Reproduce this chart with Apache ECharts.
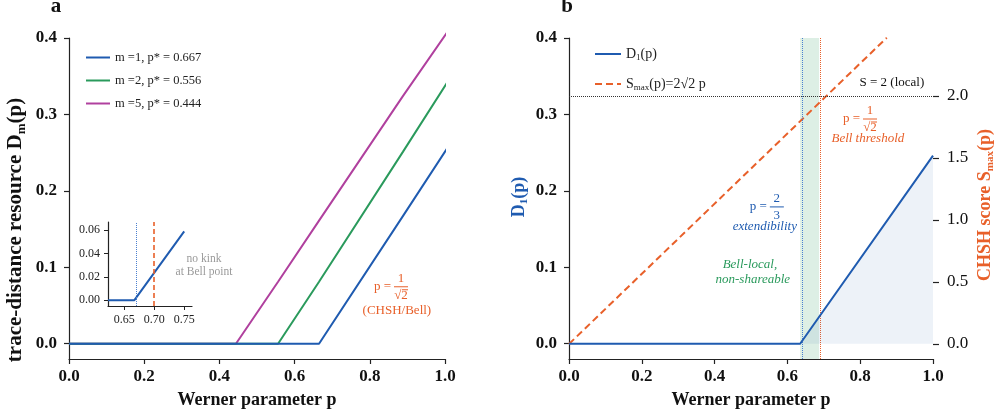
<!DOCTYPE html>
<html>
<head>
<meta charset="utf-8">
<script src="https://cdn.jsdelivr.net/npm/echarts@6/dist/echarts.min.js"></script>
<style>
  html, body { margin: 0; padding: 0; background: #fff; }
  #chart { width: 998px; height: 420px; }
</style>
</head>
<body>
<div id="chart"></div>
<script>
// ---- panel a : trace-distance resource D_m(p)
const pA = [0, 0.444, 0.556, 0.665, 0.888, 1.005];
const dM1 = [0, 0, 0, 0, 0.167, 0.255];
const dM2 = [0, 0, 0, 0.081, 0.251, 0.341];
const dM5 = [0, 0, 0.081, 0.161, 0.324, 0.407];
const namesA = ['m =1, p* = 0.667', 'm =2, p* = 0.556', 'm =5, p* = 0.444'];
// vertical guides in panel a: [p, from, to]
const guideM1 = [0.657, 0.165, 0.406];
const guideM2 = [0.556, 0, 0.406];
const guideM5 = [0.444, 0, 0.406];
const bellA = [0.732, -0.02, 0.406];

// ---- inset (zoom near m=1 threshold)
const pInset = [0.623, 0.667, 0.75];
const dInset = [0, 0, 0.059];
const insetGuide = 0.670;
const insetBell = 0.70;

// ---- panel b : D_1(p) and CHSH score
const pB = [0, 0.635, 1.0];
const d1B = [0, 0, 0.246];
const pS = [0, 0.873];
const sMax = [0, 2.47];
const extB = 0.635;
const bellB = 0.687;
const sLocal = 2.0;

// ---- ticks
const ticksD = [0, 0.1, 0.2, 0.3, 0.4];
const ticksS = [0, 0.5, 1.0, 1.5, 2.0];
const ticksInX = [0.65, 0.70, 0.75];
const ticksInY = [0, 0.02, 0.04, 0.06];

const SERIF = '"Liberation Serif", "DejaVu Serif", serif';
const BLUE = '#1f5bb0';
const GREEN = '#2a9a5c';
const MAGENTA = '#b0409e';
const ORANGE = '#e8602a';
const AXIS = '#222';

const zip = (xs, ys) => xs.map((x, i) => [x, ys[i]]);

function vline(g, color, type, width) {
  return [{ coord: [g[0], g[1]], lineStyle: { color: color, type: type, width: width } },
          { coord: [g[0], g[2]] }];
}

function xAxisMain(gridIndex) {
  return {
    type: 'value', gridIndex: gridIndex, min: 0, max: 1, interval: 0.2,
    name: 'Werner parameter p', nameLocation: 'middle', nameGap: 32,
    nameTextStyle: { fontFamily: SERIF, fontWeight: 'bold', fontSize: 18, color: '#111' },
    axisLine: { show: true, onZero: false, lineStyle: { color: AXIS, width: 1.2 } },
    axisTick: { show: true, length: 5, lineStyle: { color: AXIS, width: 1.2 } },
    axisLabel: { fontFamily: SERIF, fontWeight: 'bold', fontSize: 17, color: '#111', margin: 9,
                 formatter: v => v.toFixed(1) },
    splitLine: { show: false }
  };
}

function yAxisD(gridIndex) {
  return {
    type: 'value', gridIndex: gridIndex, min: -0.02, max: 0.4,
    axisLine: { show: true, onZero: false, lineStyle: { color: AXIS, width: 1.2 } },
    axisTick: { show: true, length: 5, customValues: ticksD, lineStyle: { color: AXIS, width: 1.2 } },
    axisLabel: { customValues: ticksD, fontFamily: SERIF, fontWeight: 'bold', fontSize: 17, color: '#111',
                 margin: 12, formatter: v => v.toFixed(1) },
    splitLine: { show: false }
  };
}

const chart = echarts.init(document.getElementById('chart'), null, { renderer: 'canvas' });

const option = {
  backgroundColor: '#fff',
  animation: false,
  grid: [
    { left: 69, top: 38, width: 376, height: 321 },
    { left: 569, top: 38, width: 364, height: 321 },
    { left: 108, top: 222, width: 84, height: 84 }
  ],
  xAxis: [
    xAxisMain(0),
    xAxisMain(1),
    {
      type: 'value', gridIndex: 2, min: 0.623, max: 0.763,
      axisLine: { show: true, onZero: false, lineStyle: { color: AXIS, width: 1.2 } },
      axisTick: { show: true, length: 4, customValues: ticksInX, lineStyle: { color: AXIS } },
      axisLabel: { customValues: ticksInX, fontFamily: SERIF, fontSize: 12, color: '#222', margin: 8,
                   formatter: v => v.toFixed(2) },
      splitLine: { show: false }
    }
  ],
  yAxis: [
    yAxisD(0),
    yAxisD(1),
    {
      type: 'value', gridIndex: 1, position: 'right', min: -0.121, max: 2.468,
      axisLine: { show: false, onZero: false },
      axisTick: { show: true, length: 6, customValues: ticksS, lineStyle: { color: AXIS, width: 1.2 } },
      axisLabel: { customValues: ticksS, fontFamily: SERIF, fontSize: 17, color: '#111', margin: 14,
                   formatter: v => v.toFixed(1) },
      splitLine: { show: false }
    },
    {
      type: 'value', gridIndex: 2, min: -0.005, max: 0.067,
      axisLine: { show: true, onZero: false, lineStyle: { color: AXIS, width: 1.2 } },
      axisTick: { show: true, length: 4, customValues: ticksInY, lineStyle: { color: AXIS } },
      axisLabel: { customValues: ticksInY, fontFamily: SERIF, fontSize: 12, color: '#222', margin: 8,
                   formatter: v => v.toFixed(2) },
      splitLine: { show: false }
    }
  ],
  legend: [
    {
      data: namesA, orient: 'vertical', left: 80, top: 46, itemWidth: 24, itemHeight: 12, itemGap: 10,
      itemStyle: { opacity: 0 },
      textStyle: { fontFamily: SERIF, fontSize: 12.5, color: '#222' }
    },
    {
      data: ['D1', 'Smax'], orient: 'vertical', left: 589, top: 42, itemWidth: 26, itemHeight: 12, itemGap: 15,
      itemStyle: { opacity: 0 },
      formatter: n => n === 'D1' ? '{n|D}{s|1}{n|(p)}' : '{n|S}{s|max}{n|(p)=2√2 p}',
      textStyle: {
        fontFamily: SERIF, fontSize: 14, color: '#222',
        rich: { n: { fontFamily: SERIF, fontSize: 14, color: '#222' },
                s: { fontFamily: SERIF, fontSize: 9, color: '#222', padding: [7, 0, 0, 0] } }
      }
    }
  ],
  series: [
    {
      name: namesA[2], type: 'line', xAxisIndex: 0, yAxisIndex: 0, symbol: 'none', clip: false,
      data: zip(pA, dM5), lineStyle: { color: MAGENTA, width: 2 }, itemStyle: { color: MAGENTA }, z: 3,
      markLine: { silent: true, symbol: 'none', label: { show: false }, data: [vline(guideM5, MAGENTA, 'dotted', 1)] }
    },
    {
      name: namesA[1], type: 'line', xAxisIndex: 0, yAxisIndex: 0, symbol: 'none', clip: false,
      data: zip(pA, dM2), lineStyle: { color: GREEN, width: 2 }, itemStyle: { color: GREEN }, z: 4,
      markLine: { silent: true, symbol: 'none', label: { show: false }, data: [vline(guideM2, GREEN, 'dotted', 1)] }
    },
    {
      name: namesA[0], type: 'line', xAxisIndex: 0, yAxisIndex: 0, symbol: 'none', clip: false,
      data: zip(pA, dM1), lineStyle: { color: BLUE, width: 2 }, itemStyle: { color: BLUE }, z: 5,
      markLine: { silent: true, symbol: 'none', label: { show: false },
                  data: [vline(guideM1, '#4a80d0', 'dotted', 1), vline(bellA, ORANGE, [7, 4], 2)] }
    },
    {
      name: 'inset', type: 'line', xAxisIndex: 2, yAxisIndex: 3, symbol: 'none',
      data: zip(pInset, dInset), lineStyle: { color: BLUE, width: 2 }, itemStyle: { color: BLUE },
      markLine: { silent: true, symbol: 'none', label: { show: false },
                  data: [ { xAxis: insetGuide, lineStyle: { color: '#4a80d0', type: 'dotted', width: 1 } },
                          { xAxis: insetBell, lineStyle: { color: ORANGE, type: [5, 3], width: 1.6 } } ] }
    },
    {
      name: 'D1', type: 'line', xAxisIndex: 1, yAxisIndex: 1, symbol: 'none',
      data: zip(pB, d1B), lineStyle: { color: BLUE, width: 2 }, itemStyle: { color: BLUE }, z: 5,
      areaStyle: { color: 'rgba(60,110,180,0.13)' },
      markArea: { silent: true, itemStyle: { color: 'rgba(42,154,92,0.16)' }, data: [[{ xAxis: extB }, { xAxis: bellB }]] },
      markLine: { silent: true, symbol: 'none', label: { show: false },
                  data: [ { xAxis: extB, lineStyle: { color: '#4a80d0', type: 'dotted', width: 1 } },
                          { xAxis: bellB, lineStyle: { color: ORANGE, type: 'dotted', width: 1 } } ] }
    },
    {
      name: 'Smax', type: 'line', xAxisIndex: 1, yAxisIndex: 2, symbol: 'none', clip: false,
      data: zip(pS, sMax), lineStyle: { color: ORANGE, width: 2, type: [7, 4] }, itemStyle: { color: ORANGE }, z: 4,
      markLine: { silent: true, symbol: 'none', label: { show: false },
                  data: [ { yAxis: sLocal, lineStyle: { color: '#333', type: 'dotted', width: 1 } } ] }
    }
  ]
};

chart.setOption(option);

// ---- annotations, anchored in data coordinates
const toA = pt => chart.convertToPixel({ xAxisIndex: 0, yAxisIndex: 0 }, pt);
const toB = pt => chart.convertToPixel({ xAxisIndex: 1, yAxisIndex: 1 }, pt);

function txt(xy, text, color, opts) {
  opts = opts || {};
  return {
    type: 'text', x: xy[0], y: xy[1], z: 100, silent: true,
    style: {
      text: text, fill: color, fontFamily: SERIF, fontSize: opts.size || 13,
      fontStyle: opts.italic ? 'italic' : 'normal', fontWeight: opts.bold ? 'bold' : 'normal',
      align: opts.align || 'center', verticalAlign: 'middle', lineHeight: opts.lh || 14
    }
  };
}

// rotated axis title (reads bottom to top) with a subscript
function vTitle(xy, pre, sub, post, color, size) {
  const base = { fontFamily: SERIF, fontWeight: 'bold', fontSize: size, fill: color };
  return {
    type: 'text', x: xy[0], y: xy[1], rotation: Math.PI / 2, z: 100, silent: true,
    style: {
      text: '{n|' + pre + '}{s|' + sub + '}{n|' + post + '}',
      align: 'center', verticalAlign: 'middle',
      rich: {
        n: base,
        s: { fontFamily: SERIF, fontWeight: 'bold', fontSize: Math.round(size * 0.6), fill: color, padding: [Math.round(size * 0.55), 0, 0, 0] }
      }
    }
  };
}

// "p = num/den" with the fraction bar centred on xy
function frac(xy, num, den, color, sqrt) {
  const x = xy[0], y = xy[1];
  const els = [
    txt([x - 10, y], 'p =', color, { align: 'right' }),
    txt([x, y - 8], num, color),
    { type: 'line', z: 100, silent: true, shape: { x1: x - 7, y1: y, x2: x + 7, y2: y }, style: { stroke: color, lineWidth: 1 } },
    txt([x, y + 9], den, color)
  ];
  if (sqrt) {
    els.push({ type: 'line', z: 100, silent: true, shape: { x1: x + 1, y1: y + 3, x2: x + 7, y2: y + 3 }, style: { stroke: color, lineWidth: 1 } });
  }
  return els;
}

const graphics = [
  txt([56, 7], 'a', '#111', { bold: true, size: 21 }),
  txt([567, 7], 'b', '#111', { bold: true, size: 21 }),
  vTitle([16, 230], 'trace-distance resource D', 'm', '(p)', '#111', 21),
  vTitle([519, 197], 'D', '1', '(p)', BLUE, 18),
  vTitle([985, 205], 'CHSH score S', 'max', '(p)', ORANGE, 18),
  txt(toA([0.359, 0.102]), 'no kink\nat Bell point', '#9a9a9a', { size: 11.5, lh: 13 }),
  ...frac(toA([0.883, 0.0745]), '1', '√2', ORANGE, true),
  txt(toA([0.872, 0.043]), '(CHSH/Bell)', ORANGE),
  txt(toB([0.887, 0.342]), 'S = 2 (local)', '#111'),
  ...frac(toB([0.827, 0.294]), '1', '√2', ORANGE, true),
  txt(toB([0.821, 0.269]), 'Bell threshold', ORANGE, { italic: true }),
  ...frac(toB([0.571, 0.179]), '2', '3', BLUE, false),
  txt(toB([0.538, 0.153]), 'extendibility', BLUE, { italic: true }),
  txt(toB([0.497, 0.103]), 'Bell-local,', GREEN, { italic: true }),
  txt(toB([0.505, 0.084]), 'non-shareable', GREEN, { italic: true })
];

chart.setOption({ graphic: graphics });
</script>
</body>
</html>
